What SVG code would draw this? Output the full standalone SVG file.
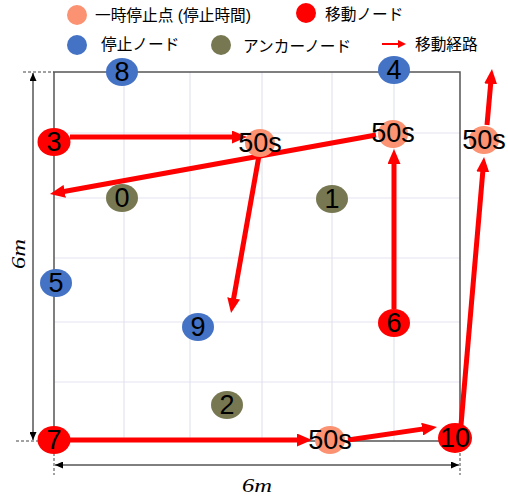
<svg xmlns="http://www.w3.org/2000/svg" width="508" height="497" viewBox="0 0 508 497">
<style>
.grid{stroke:#e3e3ef;stroke-width:1.2;fill:none}
.border{stroke:#555;stroke-width:1.5;fill:none}
.dim{stroke:#000;stroke-width:1;fill:none}
.ext{stroke:#444;stroke-width:1;stroke-dasharray:3,2;fill:none}
.path{stroke:#ff0000;stroke-width:5;fill:none}
.lbl{font-family:"Liberation Sans",Arial,sans-serif;font-size:27px;fill:#000;text-anchor:middle;dominant-baseline:central}
.leg{font-family:"Liberation Sans","Noto Sans CJK JP",sans-serif;font-size:15.7px;fill:#000;dominant-baseline:central}
.math{font-family:"Liberation Serif",serif;font-style:italic;font-size:19px;fill:#000;text-anchor:middle;dominant-baseline:central}
.salmon{fill:#fb9272}
.red{fill:#ff0000}
.blue{fill:#4472c4}
.olive{fill:#777852}
</style>
<defs>
<marker id="ah" markerUnits="userSpaceOnUse" markerWidth="15" markerHeight="13" refX="5" refY="6.5" orient="auto">
<path d="M0,0 L15,6.5 L0,13 z" fill="#ff0000"/>
</marker>
<marker id="ahs" markerUnits="userSpaceOnUse" markerWidth="8" markerHeight="8" refX="2" refY="4" orient="auto">
<path d="M0,0 L8,4 L0,8 z" fill="#ff0000"/>
</marker>
<marker id="da" markerUnits="userSpaceOnUse" markerWidth="8" markerHeight="7" refX="8" refY="3.5" orient="auto-start-reverse">
<path d="M0,0 L8,3.5 L0,7 z" fill="#000"/>
</marker>
</defs>

<g id="legend">
<circle cx="77" cy="15" r="10" class="salmon"/>
<text x="95" y="15" class="leg">一時停止点 (停止時間)</text>
<circle cx="306" cy="13" r="10" class="red"/>
<text x="325" y="14" class="leg">移動ノード</text>
<circle cx="77" cy="45" r="10" class="blue"/>
<text x="101" y="44" class="leg">停止ノード</text>
<circle cx="221" cy="45" r="10" class="olive"/>
<text x="243" y="46" class="leg">アンカーノード</text>
<line x1="382" y1="44" x2="400" y2="44" stroke="#ff0000" stroke-width="2" marker-end="url(#ahs)"/>
<text x="415" y="44" class="leg">移動経路</text>
</g>

<g id="grid">
<path class="grid" d="M124,72V441 M190,72V441 M262,72V441 M332,72V441 M394,72V441 M54,133H460 M54,198H460 M54,258H460 M54,322H460 M54,382H460"/>
<rect x="54" y="72" width="406" height="369" class="border"/>
</g>

<g id="dimensions">
<line x1="23" y1="72" x2="54" y2="72" class="ext"/>
<line x1="16" y1="441" x2="38" y2="441" class="ext"/>
<line x1="33" y1="73" x2="33" y2="440" class="dim" marker-start="url(#da)" marker-end="url(#da)"/>
<text x="18" y="254" class="math" textLength="30" lengthAdjust="spacingAndGlyphs" transform="rotate(-90 18 254)">6m</text>
<line x1="54" y1="453" x2="54" y2="475" class="ext"/>
<line x1="460" y1="453" x2="460" y2="475" class="ext"/>
<line x1="55" y1="465" x2="459" y2="465" class="dim" marker-start="url(#da)" marker-end="url(#da)"/>
<text x="257" y="485" class="math" textLength="30" lengthAdjust="spacingAndGlyphs">6m</text>
</g>

<g id="connectors">
<line x1="70" y1="137" x2="237" y2="137" class="path" marker-end="url(#ah)"/>
<line x1="376" y1="135" x2="59.8" y2="192.2" class="path" marker-end="url(#ah)"/>
<line x1="260" y1="150" x2="232.8" y2="303.2" class="path" marker-end="url(#ah)"/>
<line x1="394" y1="309" x2="394" y2="159" class="path" marker-end="url(#ah)"/>
<line x1="70" y1="440" x2="302" y2="440" class="path" marker-end="url(#ah)"/>
<line x1="348" y1="440" x2="427.1" y2="428.4" class="path" marker-end="url(#ah)"/>
<line x1="461" y1="425" x2="483.2" y2="167" class="path" marker-end="url(#ah)"/>
<line x1="487" y1="125" x2="491.1" y2="79" class="path" marker-end="url(#ah)"/>
</g>

<g id="node-8"><ellipse cx="122" cy="72" rx="16" ry="14" class="blue"/><text x="122" y="72" class="lbl">8</text></g>
<g id="node-4"><ellipse cx="394" cy="70" rx="16" ry="14" class="blue"/><text x="394" y="70" class="lbl">4</text></g>
<g id="node-3"><ellipse cx="54" cy="142" rx="16.5" ry="14" class="red"/><text x="54" y="142" class="lbl">3</text></g>
<g id="stop-a"><ellipse cx="260" cy="143" rx="15" ry="14" class="salmon"/><text x="260" y="143" class="lbl">50s</text></g>
<g id="stop-b"><ellipse cx="393" cy="134" rx="15" ry="14" class="salmon"/><text x="393" y="133" class="lbl">50s</text></g>
<g id="stop-c"><ellipse cx="484" cy="140" rx="15" ry="14" class="salmon"/><text x="484" y="140" class="lbl">50s</text></g>
<g id="node-0"><ellipse cx="122" cy="198" rx="16" ry="14" class="olive"/><text x="122" y="198" class="lbl">0</text></g>
<g id="node-1"><ellipse cx="332" cy="199" rx="16" ry="14" class="olive"/><text x="332" y="199" class="lbl">1</text></g>
<g id="node-5"><ellipse cx="56" cy="283" rx="16" ry="14" class="blue"/><text x="56" y="283" class="lbl">5</text></g>
<g id="node-9"><ellipse cx="198" cy="327" rx="16" ry="14" class="blue"/><text x="198" y="327" class="lbl">9</text></g>
<g id="node-6"><ellipse cx="394" cy="323" rx="16" ry="14" class="red"/><text x="394" y="323" class="lbl">6</text></g>
<g id="node-2"><ellipse cx="227" cy="405" rx="16" ry="14" class="olive"/><text x="227" y="405" class="lbl">2</text></g>
<g id="node-7"><ellipse cx="54" cy="440" rx="16.5" ry="14" class="red"/><text x="54" y="440" class="lbl">7</text></g>
<g id="stop-d"><ellipse cx="330" cy="440" rx="15" ry="14" class="salmon"/><text x="330" y="440" class="lbl">50s</text></g>
<g id="node-10"><ellipse cx="455" cy="438" rx="17" ry="15" class="red"/><text x="455" y="438" class="lbl">10</text></g>
</svg>
